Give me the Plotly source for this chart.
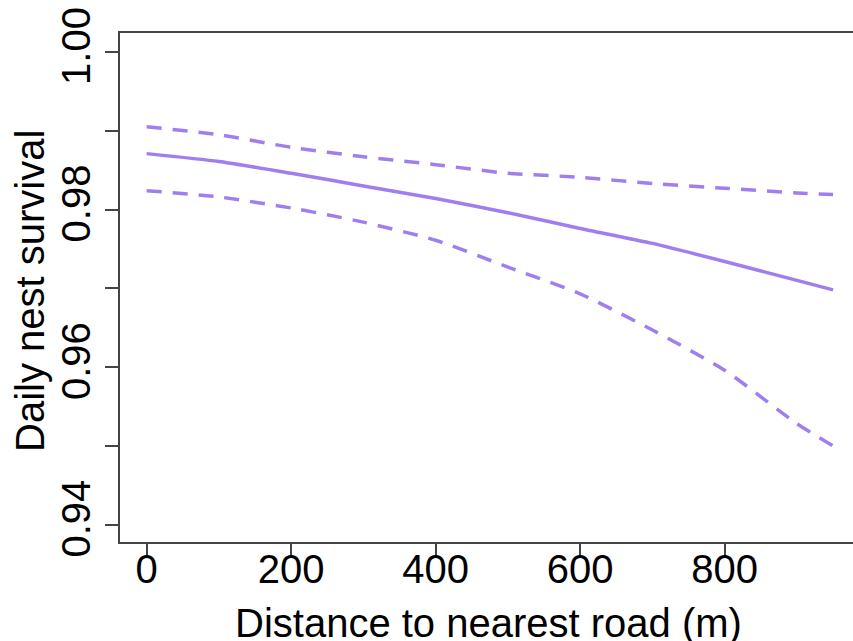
import plotly.graph_objects as go

# Data
distance = [0, 100, 200, 300, 400, 500, 600, 700, 800, 900, 950]
survival_mean = [0.9871, 0.9861, 0.9846, 0.9830, 0.9814, 0.9796, 0.9776, 0.9757, 0.9734, 0.9710, 0.9698]
survival_upper = [0.9905, 0.9895, 0.9879, 0.9867, 0.9857, 0.9846, 0.9841, 0.9833, 0.9827, 0.9821, 0.9819]
survival_lower = [0.9824, 0.9816, 0.9802, 0.9784, 0.9761, 0.9727, 0.9693, 0.9647, 0.9596, 0.9528, 0.9500]

x_ticks = [0, 200, 400, 600, 800]
y_ticks = [0.94, 0.95, 0.96, 0.97, 0.98, 0.99, 1.00]
y_ticktext = ["0.94", "", "0.96", "", "0.98", "", "1.00"]

color = "#A07EF0"
font_family = "Arial, Liberation Sans, sans-serif"

fig = go.Figure()
fig.add_trace(go.Scatter(x=distance, y=survival_upper, mode="lines",
                         line=dict(color=color, width=3.5, dash="15px,11px", shape="spline", smoothing=0.6),
                         showlegend=False, hoverinfo="skip"))
fig.add_trace(go.Scatter(x=distance, y=survival_mean, mode="lines",
                         line=dict(color=color, width=3.5, shape="spline", smoothing=0.6),
                         showlegend=False))
fig.add_trace(go.Scatter(x=distance, y=survival_lower, mode="lines",
                         line=dict(color=color, width=3.5, dash="15px,11px", shape="spline", smoothing=0.6),
                         showlegend=False, hoverinfo="skip"))

axis_color = "#444444"
fig.update_layout(
    width=853, height=641,
    margin=dict(l=120, r=0, t=33, b=99, autoexpand=False),
    paper_bgcolor="white", plot_bgcolor="white",
    font=dict(family=font_family, size=40, color="black"),
    xaxis=dict(range=[-36.9, 977.6], tickvals=x_ticks, ticktext=[str(v) for v in x_ticks],
               showline=True, linecolor=axis_color, linewidth=1.5, mirror=True,
               ticks="outside", ticklen=13, tickwidth=1.5, tickcolor=axis_color,
               showgrid=False, zeroline=False, automargin=False, ticklabelstandoff=-22,
               ticklabeloverflow="allow",
               tickfont=dict(family=font_family, size=40, color="black")),
    yaxis=dict(range=[0.93779, 1.002414], tickvals=y_ticks, ticktext=y_ticktext,
               showline=True, linecolor=axis_color, linewidth=1.5, mirror=False,
               ticks="outside", ticklen=13, tickwidth=1.5, tickcolor=axis_color,
               showgrid=False, zeroline=False, tickangle=-90, automargin=False,
               ticklabelstandoff=-1, ticklabeloverflow="allow",
               tickfont=dict(family=font_family, size=40, color="black")),
    annotations=[
        dict(text="Distance to nearest road (m)", xref="paper", yref="paper",
             x=(488.5 - 120) / 733, y=0, xanchor="center", yanchor="top", yshift=-57,
             showarrow=False, font=dict(family=font_family, size=40, color="black")),
        dict(text="Daily nest survival", xref="paper", yref="paper",
             x=(30 - 120) / 733, y=(542 - 291) / 509, xanchor="center", yanchor="middle",
             textangle=-90, showarrow=False,
             font=dict(family=font_family, size=40, color="black")),
    ],
)

post = ("document.documentElement.style.margin='0';document.body.style.margin='0';"
        "document.documentElement.style.overflow='hidden';document.body.style.overflow='hidden';")
fig.write_html("out.html", post_script=post, config={"displayModeBar": False})
